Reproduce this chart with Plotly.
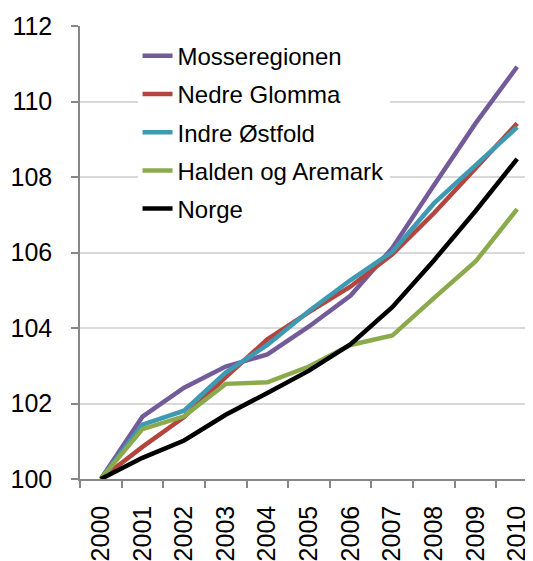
import plotly.graph_objects as go

years = ["2000", "2001", "2002", "2003", "2004", "2005", "2006", "2007", "2008", "2009", "2010"]
series_names = ["Mosseregionen", "Nedre Glomma", "Indre Østfold", "Halden og Aremark", "Norge"]
mosseregionen = [100, 101.65, 102.42, 102.98, 103.30, 104.04, 104.86, 106.12, 107.78, 109.42, 110.92]
nedre_glomma = [100, 100.85, 101.64, 102.70, 103.70, 104.42, 105.10, 105.95, 107.04, 108.24, 109.42]
indre_ostfold = [100, 101.44, 101.81, 102.82, 103.55, 104.45, 105.27, 106.02, 107.30, 108.30, 109.32]
halden_aremark = [100, 101.32, 101.66, 102.52, 102.56, 102.98, 103.55, 103.80, 104.79, 105.76, 107.15]
norge = [100, 100.56, 101.02, 101.70, 102.28, 102.87, 103.57, 104.55, 105.79, 107.10, 108.48]
y_ticks = [100, 102, 104, 106, 108, 110, 112]

colors = ["#735B9A", "#B3443E", "#3E9AB3", "#8BAA4B", "#000000"]
values = [mosseregionen, nedre_glomma, indre_ostfold, halden_aremark, norge]

FONT = "Liberation Sans, Arial, sans-serif"

fig = go.Figure()
for i, (name, vals, col) in enumerate(zip(series_names, values, colors)):
    fig.add_trace(go.Scatter(
        x=years, y=vals, name=name, mode="lines",
        line=dict(color=col, width=4.5),
        legendgroup=f"g{i}",
    ))

# page body has an 8px margin, so the figure is sized/offset to compensate
fig.update_layout(
    width=525, height=553,
    margin=dict(l=72, r=0, t=18, b=82),
    paper_bgcolor="white", plot_bgcolor="white",
    font=dict(family=FONT, size=24, color="black"),
    showlegend=True,
    legend=dict(
        x=0.127, y=0.983, xanchor="left", yanchor="top",
        bgcolor="white", borderwidth=0,
        font=dict(family=FONT, size=24, color="black"),
        tracegroupgap=4,
        itemwidth=30,
    ),
    xaxis=dict(
        type="category",
        range=[-0.5, 10.38],
        tickson="boundaries",
        showgrid=False,
        showline=True, linecolor="#878787", linewidth=1.5,
        ticks="outside", ticklen=7, tickcolor="#878787", tickwidth=1.5,
        tickangle=-90,
        tickfont=dict(family=FONT, size=25, color="black"),
        ticklabelstandoff=15,
        automargin=False,
        zeroline=False,
    ),
    yaxis=dict(
        range=[100, 112],
        tickvals=y_ticks,
        showgrid=True, gridcolor="#D9D9D9", gridwidth=1.5,
        showline=True, linecolor="#878787", linewidth=1.5,
        ticks="outside", ticklen=7, tickcolor="#878787", tickwidth=1.5,
        tickfont=dict(family=FONT, size=25, color="black"),
        ticklabelstandoff=14,
        automargin=False,
        zeroline=False,
    ),
)

fig.write_html("out.html")
